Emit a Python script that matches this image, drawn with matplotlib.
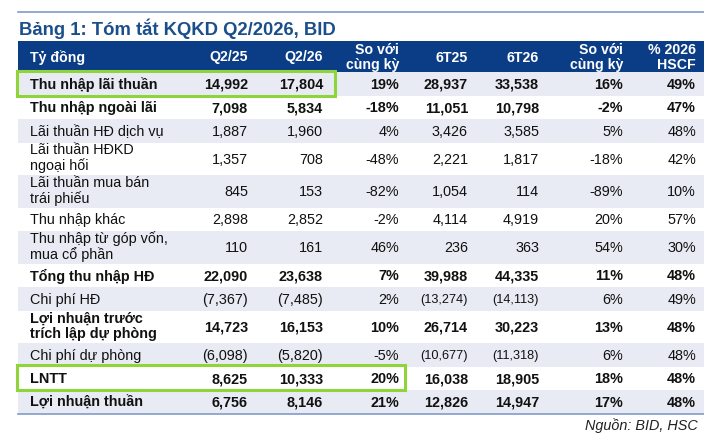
import matplotlib

matplotlib.use("Agg")
import matplotlib.pyplot as plt
from matplotlib.patches import Rectangle

plt.rcParams["font.family"] = ["Liberation Sans", "DejaVu Sans"]

title = "Bảng 1: Tóm tắt KQKD Q2/2026, BID"
source = "Nguồn: BID, HSC"

headers = ["Tỷ đồng", "Q2/25", "Q2/26", "So với\ncùng kỳ", "6T25", "6T26", "So với\ncùng kỳ", "% 2026\nHSCF"]

labels = [
    "Thu nhập lãi thuần",
    "Thu nhập ngoài lãi",
    "Lãi thuần HĐ dịch vụ",
    "Lãi thuần HĐKD\nngoại hối",
    "Lãi thuần mua bán\ntrái phiếu",
    "Thu nhập khác",
    "Thu nhập từ góp vốn,\nmua cổ phần",
    "Tổng thu nhập HĐ",
    "Chi phí HĐ",
    "Lợi nhuận trước\ntrích lập dự phòng",
    "Chi phí dự phòng",
    "LNTT",
    "Lợi nhuận thuần",
]
bold_rows = [0, 1, 7, 9, 11, 12]

q2_25 = ["14,992", "7,098", "1,887", "1,357", "845", "2,898", "110", "22,090", "(7,367)", "14,723", "(6,098)", "8,625", "6,756"]
q2_26 = ["17,804", "5,834", "1,960", "708", "153", "2,852", "161", "23,638", "(7,485)", "16,153", "(5,820)", "10,333", "8,146"]
yoy_q = ["19%", "-18%", "4%", "-48%", "-82%", "-2%", "46%", "7%", "2%", "10%", "-5%", "20%", "21%"]
h1_25 = ["28,937", "11,051", "3,426", "2,221", "1,054", "4,114", "236", "39,988", "(13,274)", "26,714", "(10,677)", "16,038", "12,826"]
h1_26 = ["33,538", "10,798", "3,585", "1,817", "114", "4,919", "363", "44,335", "(14,113)", "30,223", "(11,318)", "18,905", "14,947"]
yoy_h = ["16%", "-2%", "5%", "-18%", "-89%", "20%", "54%", "11%", "6%", "13%", "6%", "18%", "17%"]
pct_fy = ["49%", "47%", "48%", "42%", "10%", "57%", "30%", "48%", "49%", "48%", "48%", "48%", "48%"]

# highlighted cells: (row, last column index covered)
highlights = [(0, 2), (11, 3)]

NAVY = "#0b3d86"
SHADE = "#e8ebf3"
GREEN = "#8fd43a"
LINE = "#7f9cc8"
TITLE_C = "#1b4f8c"

col_right = [None, 248, 323, 399, 468, 539, 623, 696]
col_hl_right = [None, 335, 335, 405]
x_left, x_right = 18, 704
label_x = 30
FS = 10.4

fig = plt.figure(figsize=(7.04, 4.35), dpi=100)
ax = fig.add_axes([0, 0, 1, 1])
ax.set_xlim(0, 704)
ax.set_ylim(435, 0)
ax.axis("off")

ax.plot([x_left, x_right], [13, 13], color=LINE, lw=1.2)
ax.text(19, 29, title, fontsize=13.3, fontweight="bold", color=TITLE_C, va="center", ha="left")

# header band
head_top, head_bot = 42, 73
ax.add_patch(Rectangle((x_left, head_top), x_right - x_left, head_bot - head_top, color=NAVY, lw=0))
hy = (head_top + head_bot) / 2
for j, h in enumerate(headers):
    if j == 0:
        ax.text(label_x, hy, h, color="white", fontsize=10.2, fontweight="bold", ha="left", va="center")
    else:
        ax.text(col_right[j], hy, h, color="white", fontsize=10.2, fontweight="bold", ha="right",
                va="center", linespacing=1.05, multialignment="right")

columns = [q2_25, q2_26, yoy_q, h1_25, h1_26, yoy_h, pct_fy]

y = head_bot
tops = []
for i, lab in enumerate(labels):
    h = 32.5 if "\n" in lab else 23.5
    tops.append((y, h))
    if i % 2 == 0:
        ax.add_patch(Rectangle((x_left, y), x_right - x_left, h, color=SHADE, lw=0))
    yc = y + h / 2
    weight = "bold" if i in bold_rows else "normal"
    ly = yc - 1.5 if "\n" in lab else yc
    ax.text(label_x, ly, lab, fontsize=FS, fontweight=weight, ha="left", va="center", linespacing=1.12,
            color="#111111")
    for j, col in enumerate(columns, start=1):
        txt = col[i]
        # long bracketed values in the 6-month columns are set smaller
        fs = 9.2 if (txt.startswith("(") and len(txt) > 7) else FS
        ax.text(col_right[j], yc, txt, fontsize=fs, fontweight=weight, ha="right", va="center",
                color="#111111")
    y += h

ax.plot([x_left, x_right], [y, y], color=LINE, lw=1.2)

for r, last in highlights:
    top, h = tops[r]
    ax.add_patch(Rectangle((17, top - 1.5), col_hl_right[last] - 17, h + 1.5, fill=False,
                           edgecolor=GREEN, lw=2.2))

ax.text(698, y + 11, source, fontsize=10.4, style="italic", ha="right", va="center", color="#222222")

fig.savefig("out.png", dpi=100)
